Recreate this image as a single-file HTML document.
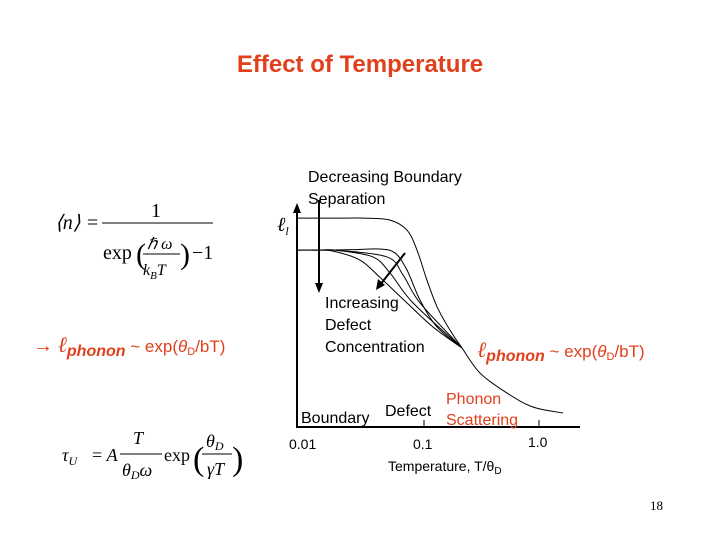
<!DOCTYPE html>
<html><head><meta charset="utf-8"><style>
body{margin:0;background:#fff}
svg{display:block}
.s{font-family:"Liberation Sans",Arial,sans-serif}
.m{font-family:"Liberation Serif",serif}
.r{fill:#e0401c}
</style></head><body>
<svg id="c" width="720" height="540" viewBox="0 0 720 540">
<text class="s r" x="360" y="72" text-anchor="middle" font-size="24" font-weight="bold">Effect of Temperature</text>

<g class="m" font-size="20">
<text x="55" y="229" font-style="italic">⟨n⟩ =</text>
<line x1="102" y1="223" x2="213" y2="223" stroke="#000" stroke-width="1"/>
<text x="151" y="217">1</text>
<text x="103" y="259">exp</text>
<text x="136" y="264" font-size="30">(</text>
<text x="147" y="249" font-style="italic" font-size="16">ℏ ω</text>
<line x1="143" y1="254" x2="180" y2="254" stroke="#000"/>
<text x="143" y="275" font-style="italic" font-size="16">k<tspan font-size="11" dy="4">B</tspan><tspan dy="-4">T</tspan></text>
<text x="180" y="264" font-size="30">)</text>
<text x="192" y="259">−1</text>
</g>

<text class="s r" x="33" y="352" font-size="17"><tspan font-size="20">→</tspan> <tspan class="m" font-style="italic" font-size="22">ℓ</tspan><tspan font-style="italic" font-weight="bold" font-size="16" dy="4">phonon</tspan><tspan dy="-4"> ~ exp(</tspan><tspan font-style="italic">θ</tspan><tspan font-size="11" dy="3">D</tspan><tspan dy="-3">/bT)</tspan></text>

<g class="m" font-size="18">
<text x="62" y="461" font-style="italic">τ<tspan font-size="12" dy="4">U</tspan></text>
<text x="92" y="461">= <tspan font-style="italic">A</tspan></text>
<text x="133" y="444" font-style="italic">T</text>
<line x1="120" y1="454" x2="162" y2="454" stroke="#000"/>
<text x="122" y="476" font-style="italic">θ<tspan font-size="12" dy="3">D</tspan><tspan dy="-3">ω</tspan></text>
<text x="164" y="461">exp</text>
<text x="193" y="470" font-size="34">(</text>
<text x="206" y="447" font-style="italic">θ<tspan font-size="12" dy="3">D</tspan></text>
<line x1="202" y1="454" x2="232" y2="454" stroke="#000"/>
<text x="207" y="475" font-style="italic">γT</text>
<text x="232" y="470" font-size="34">)</text>
</g>

<g id="plot"></g>

<text x="650" y="510" class="m" font-size="13">18</text>
</svg>
<script>
const NS="http://www.w3.org/2000/svg";
const upperT=[0.0079,0.02,0.03,0.0506,0.0711,0.0869,0.106,0.13,0.168,0.214,0.307,0.527,0.887,1.62];
const upperL=[94.1,94.1,94.1,93.2,88.7,79.7,66.2,54.1,43.7,35.6,24.3,15.3,9,6.3];
const defectT=[[0.0079,0.015,0.025,0.041,0.056,0.0711,0.0923,0.13,0.214],[0.0079,0.012,0.0175,0.0477,0.0657,0.0923,0.214],[0.0079,0.012,0.018,0.036,0.0506,0.0802,0.214],[0.0079,0.011,0.016,0.0277,0.041,0.0711,0.12,0.214]];
const defectL=[[79.7,79.7,79.9,80.2,78.4,70.7,57.2,45,35.6],[79.7,79.7,79.6,76.6,68.5,55.9,35.6],[79.7,79.7,79.5,76.6,69.4,55.9,35.6],[79.7,79.7,79.3,75.2,67.6,55.9,45,35.6]];
const tickVals=[0.01,0.1,1.0];
const tickLabels=["0.01","0.1","1.0"];
const x=t=>424+115*Math.log10(t/0.1);
const y=v=>427-v*2.22;
const g=document.getElementById('plot');
function mk(tag,attrs,parent){const e=document.createElementNS(NS,tag);for(const k in attrs)e.setAttribute(k,attrs[k]);(parent||g).appendChild(e);return e;}
function path(pts){let d="M"+pts[0][0]+","+pts[0][1];for(let i=0;i<pts.length-1;i++){const p0=pts[Math.max(0,i-1)],p1=pts[i],p2=pts[i+1],p3=pts[Math.min(pts.length-1,i+2)];
d+=" C"+(p1[0]+(p2[0]-p0[0])/6)+","+(p1[1]+(p2[1]-p0[1])/6)+" "+(p2[0]-(p3[0]-p1[0])/6)+","+(p2[1]-(p3[1]-p1[1])/6)+" "+p2[0]+","+p2[1];}return d;}
const ya=mk('line',{x1:297,y1:210,x2:297,y2:428,stroke:'#000','stroke-width':2});


const yh=mk('polygon',{points:'297,203 293,213 301,213',fill:'#000'});


const xa=mk('line',{x1:296,y1:427,x2:580,y2:427,stroke:'#000','stroke-width':2});


tickVals.forEach((t,i)=>{
 if(i>0){const tk=mk('line',{x1:x(t),y1:420,x2:x(t),y2:427,stroke:'#000'});
 
 }
 const lb=mk('text',{x:x(t)-(i==0?20:11),y:i==2?447:449,'font-size':14,class:'s'});lb.textContent=tickLabels[i];
 
 
});
const up=mk('path',{d:path(upperT.map((t,i)=>[x(t),y(upperL[i])])),fill:'none',stroke:'#000','stroke-width':1});


defectT.forEach((ts,j)=>{const p=mk('path',{d:path(ts.map((t,i)=>[x(t),y(defectL[j][i])])),fill:'none',stroke:'#000','stroke-width':1});
 
 });
</script>
<svg style="position:absolute;left:0;top:0" width="720" height="540">
<g class="s" font-size="16">
<text x="308" y="182">Decreasing Boundary</text>
<text x="308" y="204">Separation</text>
<line x1="319" y1="200" x2="319" y2="285" stroke="#000" stroke-width="2"/>
<polygon points="319,293 315,283 323,283"/>
<line x1="405" y1="253" x2="380" y2="285" stroke="#000" stroke-width="2"/>
<polygon points="376,290 378,279 385,285"/>
<text x="325" y="308">Increasing</text>
<text x="325" y="330">Defect</text>
<text x="325" y="352">Concentration</text>
<text x="301" y="423">Boundary</text>
<text x="385" y="416">Defect</text>
<text x="446" y="404" class="r">Phonon</text>
<text x="446" y="425" class="r">Scattering</text>
<text x="388" y="471" font-size="14">Temperature, T/θ<tspan font-size="10" dy="3">D</tspan></text>
<text x="277" y="231" class="m" font-style="italic" font-size="20">ℓ<tspan font-size="12" dy="4">l</tspan></text>
<text x="477" y="357" class="r" font-size="17"><tspan class="m" font-style="italic" font-size="22">ℓ</tspan><tspan font-style="italic" font-weight="bold" font-size="16" dy="4">phonon</tspan><tspan dy="-4"> ~ exp(</tspan><tspan font-style="italic">θ</tspan><tspan font-size="11" dy="3">D</tspan><tspan dy="-3">/bT)</tspan></text>
</g>
</svg>
</body></html>
